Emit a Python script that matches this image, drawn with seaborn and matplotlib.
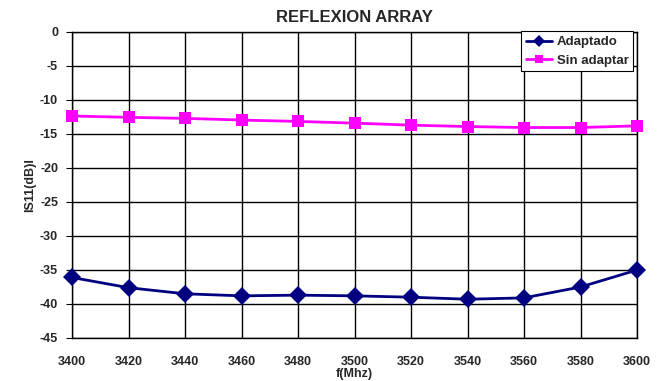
import matplotlib
matplotlib.use("Agg")
import matplotlib.pyplot as plt
import seaborn as sns
import pandas as pd

freq = [3400, 3420, 3440, 3460, 3480, 3500, 3520, 3540, 3560, 3580, 3600]
adaptado = [-36.1, -37.6, -38.5, -38.8, -38.7, -38.8, -39.0, -39.3, -39.1, -37.5, -35.0]
sin_adaptar = [-12.35, -12.55, -12.7, -12.95, -13.15, -13.4, -13.7, -13.9, -14.05, -14.05, -13.8]
x_ticks = [3400, 3420, 3440, 3460, 3480, 3500, 3520, 3540, 3560, 3580, 3600]
y_ticks = [0, -5, -10, -15, -20, -25, -30, -35, -40, -45]

sns.set_style("white")
plt.rcParams['font.family'] = ['Liberation Sans', 'DejaVu Sans']
plt.rcParams['axes.unicode_minus'] = False

df = pd.DataFrame({"f": freq * 2,
                   "val": adaptado + sin_adaptar,
                   "serie": ["Adaptado"] * len(freq) + ["Sin adaptar"] * len(freq)})

fig = plt.figure(figsize=(6.67, 3.81), dpi=100)
ax = fig.add_axes([72/667, 1 - 338/381, (637-72)/667, (338-32)/381])

sns.lineplot(data=df, x="f", y="val", hue="serie", style="serie",
             palette={"Adaptado": "#000080", "Sin adaptar": "#FF00FF"},
             markers={"Adaptado": "D", "Sin adaptar": "s"},
             dashes=False, markersize=9, markeredgewidth=0, linewidth=2,
             ax=ax, zorder=5, clip_on=False)
for l in ax.lines:
    l.set_clip_on(False)

ax.set_xlim(3400, 3600)
ax.set_ylim(-45, 0)
ax.set_xticks(x_ticks)
ax.set_yticks(y_ticks)
ax.grid(True, color="black", linewidth=1)
for s in ax.spines.values():
    s.set_color("black")
    s.set_linewidth(1)
ax.tick_params(axis="both", labelsize=9, length=4, direction="out", color="black",
               left=True, bottom=False)
ax.tick_params(axis="x", pad=9)
ax.tick_params(axis="y", pad=6)
for t in ax.get_xticklabels() + ax.get_yticklabels():
    t.set_fontweight("bold")
ax.set_title("REFLEXION ARRAY", fontsize=12, fontweight="bold", pad=7)
ax.set_xlabel("f(Mhz)", fontsize=9, fontweight="bold", labelpad=0)
ax.set_ylabel("IS11(dB)I", fontsize=9, fontweight="bold", labelpad=3)

leg = ax.legend(loc="upper right", fontsize=9.5,
                prop={"weight": "bold", "size": 9.5}, frameon=True, fancybox=False,
                edgecolor="black", framealpha=1, borderpad=0.35, labelspacing=0.45,
                handlelength=2.0, handletextpad=0.35, borderaxespad=0.0, markerscale=0.65)
leg.set_bbox_to_anchor((633/667, 1 - 31.5/381), transform=fig.transFigure)
leg.get_frame().set_linewidth(0.8)
leg.set_zorder(10)

fig.savefig("out.png", dpi=100)
